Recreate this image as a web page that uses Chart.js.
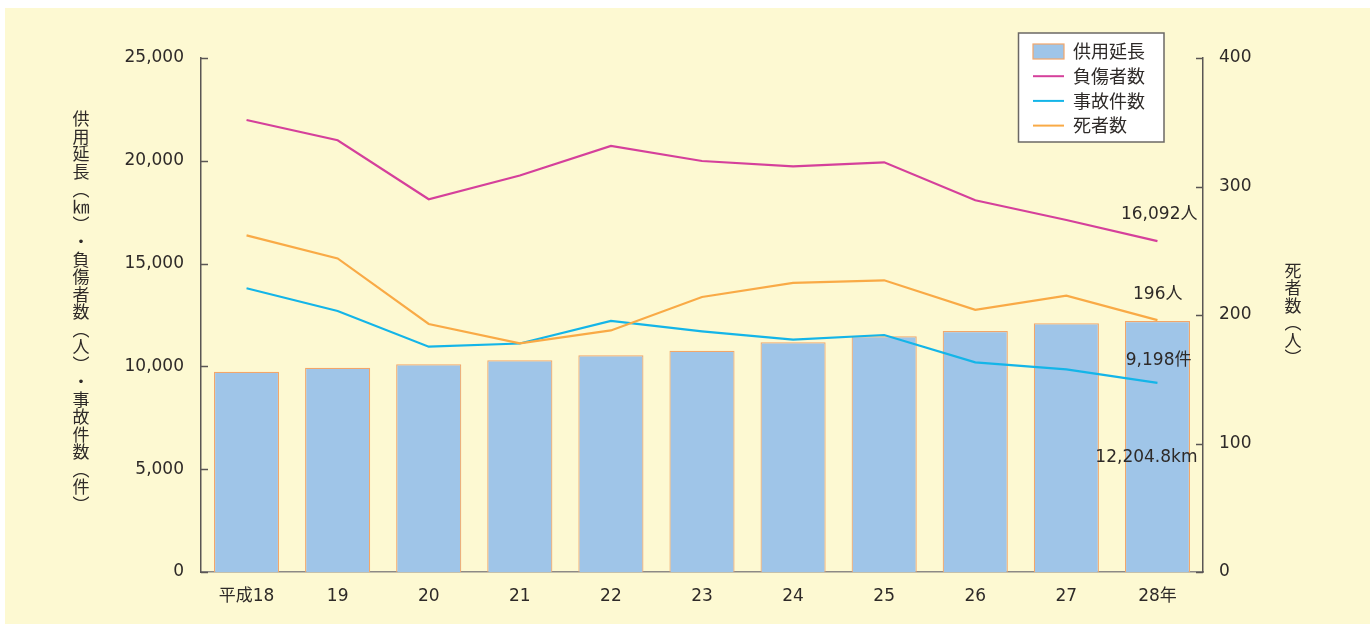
<!DOCTYPE html>
<html lang="ja">
<head>
<meta charset="utf-8">
<script src="https://cdn.jsdelivr.net/npm/chart.js@4/dist/chart.umd.min.js"></script>
<style>
html,body{margin:0;padding:0;background:#fff;}
#wrap{position:absolute;left:0;top:0;width:1370px;height:624px;}
</style>
</head>
<body>
<div id="wrap"><canvas id="c" width="1370" height="624"></canvas></div>
<script>
// 年度
const years = ['平成18', '19', '20', '21', '22', '23', '24', '25', '26', '27', '28年'];
// 供用延長 (km)
const lengthKm = [9743, 9937, 10103, 10297, 10540, 10764, 11173, 11464, 11722, 12097, 12204.8];
// 負傷者数 (人)
const injured = [21984, 20998, 18128, 19286, 20720, 19991, 19733, 19928, 18080, 17121, 16092];
// 事故件数 (件)
const accidents = [13799, 12695, 10959, 11114, 12209, 11708, 11299, 11528, 10200, 9859, 9198];
// 死者数 (人)
const deaths = [262, 244, 193, 178, 188, 214, 225, 227, 204, 215, 196];

const leftTicks = [0, 5000, 10000, 15000, 20000, 25000];
const rightTicks = [0, 100, 200, 300, 400];
const leftTitle = ['供','用','延','長','︵','㎞','︶','・','負','傷','者','数','︵','人','︶','・','事','故','件','数','︵','件','︶'];
const rightTitle = ['死','者','数','︵','人','︶'];

const TEXT = '#2e2a28';
const NUM_FONT = "'DejaVu Sans', 'Noto Sans CJK JP', sans-serif";
const CJK_FONT = "'Noto Sans CJK JP', 'DejaVu Sans', sans-serif";
const fmt = v => v.toLocaleString('en-US');

// 背景
const backgroundPlugin = {
  id: 'bg',
  beforeDraw(chart) {
    const ctx = chart.ctx;
    ctx.save();
    ctx.fillStyle = '#fdf9d2';
    ctx.fillRect(5, 8, chart.width - 5, chart.height - 8);
    ctx.restore();
  }
};

// 内向きの目盛り線
const innerTicksPlugin = {
  id: 'innerTicks',
  afterDraw(chart) {
    const ctx = chart.ctx;
    const {left, right} = chart.chartArea;
    ctx.save();
    ctx.strokeStyle = '#5a5654';
    ctx.lineWidth = 1.5;
    const ys = chart.scales.y, yr = chart.scales.y1;
    leftTicks.forEach(v => {
      const p = Math.round(ys.getPixelForValue(v)) + 0.5;
      ctx.beginPath(); ctx.moveTo(left, p); ctx.lineTo(left + 7, p); ctx.stroke();
    });
    rightTicks.forEach(v => {
      const p = Math.round(yr.getPixelForValue(v)) + 0.5;
      ctx.beginPath(); ctx.moveTo(right, p); ctx.lineTo(right - 7, p); ctx.stroke();
    });
    ctx.restore();
  }
};

// 縦書きの軸タイトル
const axisTitlePlugin = {
  id: 'axisTitles',
  afterDraw(chart) {
    const ctx = chart.ctx;
    ctx.save();
    ctx.fillStyle = TEXT;
    ctx.font = '17px ' + CJK_FONT;
    ctx.textAlign = 'center';
    ctx.textBaseline = 'middle';
    leftTitle.forEach((ch, i) => ctx.fillText(ch, 81, 119 + i * 17.52));
    rightTitle.forEach((ch, i) => ctx.fillText(ch, 1293, 270.5 + i * 17.5));
    ctx.restore();
  }
};

// 凡例
const legendBoxPlugin = {
  id: 'legendBox',
  afterDraw(chart) {
    const ctx = chart.ctx;
    ctx.save();
    ctx.fillStyle = '#ffffff';
    ctx.fillRect(1018.5, 33, 145.5, 109);
    ctx.strokeStyle = '#6b6865';
    ctx.lineWidth = 1.5;
    ctx.strokeRect(1018.5, 33, 145.5, 109);
    ctx.font = '18px ' + CJK_FONT;
    ctx.textBaseline = 'middle';
    ctx.textAlign = 'left';
    chart.data.datasets.forEach((ds, i) => {
      const cy = 51.5 + i * 24.7;
      if (ds.type === 'bar') {
        ctx.fillStyle = ds.backgroundColor;
        ctx.fillRect(1033, cy - 7.5, 31, 15);
        ctx.strokeStyle = ds.borderColor;
        ctx.lineWidth = 1.2;
        ctx.strokeRect(1033, cy - 7.5, 31, 15);
      } else {
        ctx.strokeStyle = ds.borderColor;
        ctx.lineWidth = 2;
        ctx.beginPath(); ctx.moveTo(1033, cy); ctx.lineTo(1064, cy); ctx.stroke();
      }
      ctx.fillStyle = TEXT;
      ctx.fillText(ds.label, 1073, cy);
    });
    ctx.restore();
  }
};

// 最新年の値ラベル
const endLabelPlugin = {
  id: 'endLabels',
  afterDatasetsDraw(chart) {
    const ctx = chart.ctx;
    const last = years.length - 1;
    const pt = i => chart.getDatasetMeta(i).data[last];
    ctx.save();
    ctx.fillStyle = TEXT;
    ctx.font = '17px ' + NUM_FONT;
    ctx.textAlign = 'right';
    ctx.textBaseline = 'middle';
    const bar = pt(0), inj = pt(1), acc = pt(2), dea = pt(3);
    ctx.fillText(fmt(injured[last]) + '人', inj.x + 40, inj.y - 27);
    ctx.fillText(fmt(deaths[last]) + '人', dea.x + 25, dea.y - 26);
    ctx.fillText(fmt(accidents[last]) + '件', acc.x + 34, acc.y - 22);
    ctx.fillText(lengthKm[last].toLocaleString('en-US', {minimumFractionDigits: 1}) + 'km', bar.x + 40, bar.y + 137);
    ctx.restore();
  }
};

new Chart(document.getElementById('c'), {
  data: {
    labels: years,
    datasets: [
      {
        type: 'bar', label: '供用延長', data: lengthKm, yAxisID: 'y', order: 10,
        backgroundColor: '#9fc5e8', borderColor: '#f2a66a', borderWidth: 1.2,
        barPercentage: 0.715, categoryPercentage: 1
      },
      {
        type: 'line', label: '負傷者数', data: injured, yAxisID: 'y', order: 3,
        borderColor: '#d5409b', borderWidth: 2.2, pointRadius: 0, tension: 0, fill: false
      },
      {
        type: 'line', label: '事故件数', data: accidents, yAxisID: 'y', order: 2,
        borderColor: '#14b5e8', borderWidth: 2.2, pointRadius: 0, tension: 0, fill: false
      },
      {
        type: 'line', label: '死者数', data: deaths, yAxisID: 'y1', order: 1,
        borderColor: '#f9aa46', borderWidth: 2.2, pointRadius: 0, tension: 0, fill: false
      }
    ]
  },
  options: {
    responsive: false,
    animation: false,
    devicePixelRatio: 1,
    layout: { padding: { top: 58, left: 0, right: 0, bottom: 0 } },
    plugins: { legend: { display: false }, tooltip: { enabled: false } },
    scales: {
      x: {
        grid: { display: false, drawTicks: false },
        border: { display: true, color: '#8d8a86', width: 1.5 },
        ticks: { padding: 14, color: TEXT, font: { size: 17, family: NUM_FONT }, maxRotation: 0, autoSkip: false },
        afterFit: s => { s.height = 52; }
      },
      y: {
        position: 'left', min: 0, max: 25000,
        afterBuildTicks: s => { s.ticks = leftTicks.map(v => ({ value: v })); },
        grid: { display: false, drawTicks: false },
        border: { display: true, color: '#5a5654', width: 1.5 },
        ticks: { padding: 17, color: TEXT, font: { size: 17, family: NUM_FONT }, callback: v => fmt(v) },
        afterFit: s => { s.width = 201; }
      },
      y1: {
        position: 'right', min: 0, max: 400,
        afterBuildTicks: s => { s.ticks = rightTicks.map(v => ({ value: v })); },
        grid: { display: false, drawTicks: false },
        border: { display: true, color: '#5a5654', width: 1.5 },
        ticks: { padding: 16, color: TEXT, font: { size: 17, family: NUM_FONT }, callback: v => fmt(v) },
        afterFit: s => { s.width = 167; }
      }
    }
  },
  plugins: [backgroundPlugin, innerTicksPlugin, axisTitlePlugin, legendBoxPlugin, endLabelPlugin]
});
</script>
</body>
</html>
